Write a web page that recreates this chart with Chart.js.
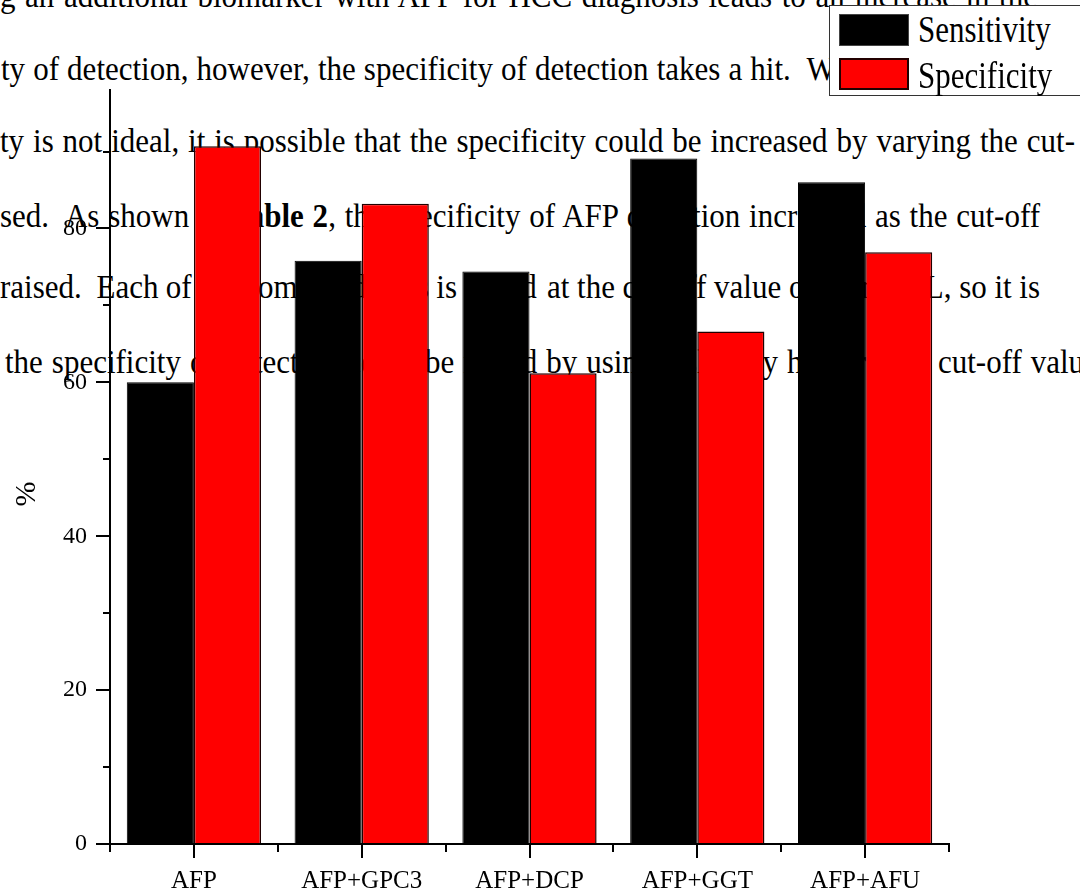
<!DOCTYPE html>
<html>
<head>
<meta charset="utf-8">
<script src="https://cdn.jsdelivr.net/npm/chart.js@4.4.0/dist/chart.umd.min.js"></script>
<style>
html, body { margin: 0; padding: 0; background: #fff; }
#wrap { position: relative; width: 1080px; height: 896px; overflow: hidden; }
#doc { position: absolute; left: 0; top: 0; width: 1080px; height: 896px;
  font-family: 'Liberation Serif', 'Times New Roman', serif; font-size: 31px; line-height: 1; color: #000; }
#doc div { position: absolute; white-space: pre; transform: scaleY(1.08); transform-origin: 0 26px; }
#chart { position: absolute; left: 0; top: 0; }
#legend { position: absolute; left: 829px; top: 5px; width: 270px; height: 91px;
  border: 1.5px solid #333; background: #fff; box-sizing: border-box; }
#legend .sw { position: absolute; left: 9px; width: 70px; height: 32px; box-sizing: border-box; }
#legend .txt { position: absolute; left: 88px; font-family: 'Liberation Serif', serif; font-size: 31px;
  line-height: 1; white-space: nowrap; transform: scaleY(1.25); transform-origin: 0 0; }
</style>
</head>
<body>
<div id="wrap">
  <div id="doc"></div>
  <canvas id="chart" width="1080" height="896"></canvas>
  <div id="legend"></div>
</div>
<script>
'use strict';

// --- Data ---
const categories  = ['AFP', 'AFP+GPC3', 'AFP+DCP', 'AFP+GGT', 'AFP+AFU'];
const sensitivity = [60, 75.8, 74.4, 89.1, 86.0];
const specificity = [90.7, 83.2, 61.2, 66.6, 76.9];
const seriesNames = ['Sensitivity', 'Specificity'];
const yMinorTicks = [10, 30, 50, 70, 90];

// page text behind the figure (justified lines): [baseline, left, text, anchor prefix, anchor x]
const docText = [
  [7,   0,   'g an additional biomarker with AFP for HCC diagnosis leads to an increase in the', null, 1037],
  [80,  1,   'ty of detection, however, the specificity of detection takes a hit.  While the',
             'ty of detection, however, the specificity of detection takes a hit.  ', 807],
  [152, 0,   'ty is not ideal, it is possible that the specificity could be increased by varying the cut-', null, 1075],
  [227, 0,   'sed.  As shown in <b>Table 2</b>, the specificity of AFP detection increased as the cut-off', null, 1040],
  [298, 0,   'raised.  Each of the combined tests is tested', 'raised.  Each of the c', 258],
  [298, 547, 'at the cut-off value of 20 ng/mL, so it is', null, 1040],
  [373, 5,   'the specificity of detection could be raised by using a slightly higher AFP cut-off value',
             'the specificity of detection could be raised by using a slightly higher AFP ', 938]
];

// --- Background text ---
const doc = document.getElementById('doc');
function placeText([baseline, left, html, anchor, anchorX]){
  const d = document.createElement('div');
  d.innerHTML = html;
  d.style.left = left + 'px';
  d.style.top = (baseline - 26) + 'px';
  doc.appendChild(d);
  // stretch the spaces so the line reaches the same point as in the page
  const m = document.createElement('div');
  m.innerHTML = anchor || html;
  m.style.left = '0px'; m.style.top = '-300px';
  doc.appendChild(m);
  const w = m.getBoundingClientRect().width;
  const spaces = (m.textContent.match(/ /g) || []).length;
  m.remove();
  if(spaces) d.style.wordSpacing = ((anchorX - left - w) / spaces) + 'px';
}
docText.forEach(placeText);

// --- Legend ---
const legend = document.getElementById('legend');
const swColors = ['#000', '#ff0000'];
seriesNames.forEach((name, i) => {
  const sw = document.createElement('div');
  sw.className = 'sw';
  sw.style.top = (i ? 52 : 7.5) + 'px';
  sw.style.background = swColors[i];
  sw.style.border = i ? '2px solid #200' : '1px solid #444';
  legend.appendChild(sw);
  const tx = document.createElement('div');
  tx.className = 'txt';
  tx.textContent = name;
  tx.style.top = (i ? 49 : 3) + 'px';
  legend.appendChild(tx);
});

// --- Plugins ---
const minorTicks = {
  id: 'minorTicks',
  afterDraw(chart){
    const { ctx, scales: { x, y } } = chart;
    ctx.save();
    ctx.strokeStyle = '#000';
    ctx.lineWidth = 2;
    yMinorTicks.forEach(v => {
      const py = Math.round(y.getPixelForValue(v));
      ctx.beginPath(); ctx.moveTo(x.left - 7, py); ctx.lineTo(x.left, py); ctx.stroke();
    });
    for(let i = 0; i <= categories.length; i++){
      const px = Math.round(x.getPixelForValue(i - 0.5));
      ctx.beginPath(); ctx.moveTo(px, y.bottom); ctx.lineTo(px, y.bottom + 8); ctx.stroke();
    }
    // y title
    ctx.fillStyle = '#000';
    ctx.font = '30px "Liberation Serif", serif';
    ctx.textAlign = 'center';
    ctx.textBaseline = 'middle';
    ctx.translate(27, y.getPixelForValue(45.5));
    ctx.rotate(-Math.PI / 2);
    ctx.fillText('%', 0, 0);
    ctx.restore();
  }
};

// --- Chart ---
new Chart(document.getElementById('chart'), {
  type: 'bar',
  data: {
    labels: categories,
    datasets: [
      { label: seriesNames[0], data: sensitivity, backgroundColor: '#000', borderColor: '#000', borderWidth: 1 },
      { label: seriesNames[1], data: specificity, backgroundColor: '#ff0000', borderColor: '#220000', borderWidth: 1.5 }
    ]
  },
  options: {
    responsive: false,
    animation: false,
    events: [],
    categoryPercentage: 0.8,
    barPercentage: 1,
    layout: { padding: { top: 90, right: 131, left: 0, bottom: 0 } },
    plugins: { legend: { display: false }, tooltip: { enabled: false } },
    scales: {
      x: {
        afterFit: s => { s.height = 52; },
        grid: { display: true, offset: false, drawOnChartArea: false, tickLength: 14, color: '#000', lineWidth: 2 },
        border: { color: '#000', width: 2 },
        ticks: { color: '#000', padding: 8, font: { family: 'Liberation Serif', size: 25 }, maxRotation: 0 }
      },
      y: {
        min: 0, max: 98,
        afterFit: s => { s.width = 110; },
        afterBuildTicks: s => { s.ticks = s.ticks.filter(t => t.value % 20 === 0); },
        grid: { display: true, drawOnChartArea: false, tickLength: 14, color: '#000', lineWidth: 2 },
        border: { color: '#000', width: 2 },
        ticks: { stepSize: 20, color: '#000', padding: 9, font: { family: 'Liberation Serif', size: 24 } }
      }
    }
  },
  plugins: [minorTicks]
});
</script>
</body>
</html>
